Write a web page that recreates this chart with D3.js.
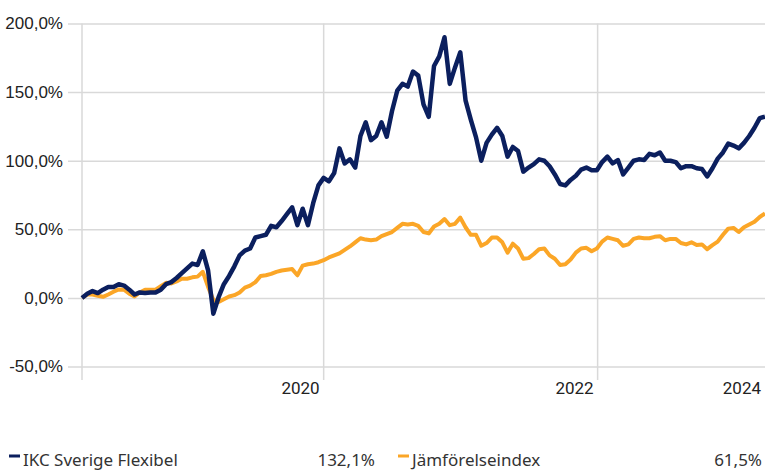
<!DOCTYPE html>
<html>
<head>
<meta charset="utf-8">
<script src="https://cdn.jsdelivr.net/npm/d3@7/dist/d3.min.js"></script>
<style>
  body { margin: 0; background: #fff; }
  svg { display: block; }
</style>
</head>
<body>
<div id="chart"></div>
<script>
// data: two-weekly readings, start date + step
var startDate = "2019-03-29";
var stepDays = 14;

var fundName = "IKC Sverige Flexibel";
var fundTotal = "132,1%";
var fundValues = [
  0, 3, 5, 3.5, 6, 8, 8, 10, 9, 6,
  2.5, 4, 3.5, 4, 4, 6, 10, 11.5, 14.5, 18,
  21.5, 25, 24, 34, 20, -11.5, 0.5, 10, 16, 23,
  31, 34.5, 36, 44, 45, 46, 52.5, 51.5, 56, 61,
  66, 53, 65, 53, 69, 82, 87.5, 85, 91, 109,
  98, 101, 95, 118, 128, 115, 118, 128, 117.5, 136,
  151, 156, 154, 165, 162, 141, 132, 169, 176, 190,
  156, 168, 179, 144, 130, 117, 100, 113, 119, 124,
  118, 103, 110, 107, 92, 95, 97.5, 101, 100, 96,
  90, 83, 82, 86, 89, 93.5, 95, 93, 93, 99,
  103, 98, 100.5, 90, 95, 100, 101, 100.5, 105, 104,
  106, 100, 100, 99, 94.5, 96, 96, 94.5, 94, 88.5,
  94.5, 101.5, 106, 112.5, 111, 109, 113, 118, 124, 131,
  132.1
];

var indexName = "Jämförelseindex";
var indexTotal = "61,5%";
var indexValues = [
  0, 2.5, 2.5, 1.5, 0.8, 2.5, 4.5, 6.2, 6, 3,
  1, 4, 6, 6, 6, 8.5, 11, 10.5, 12, 14,
  14, 15, 15.5, 19, 8, -1.5, -3, -1, 1, 2,
  4, 7.5, 9, 11.5, 16, 16.5, 17.5, 19, 20, 20.5,
  21, 16.5, 23.5, 24.5, 25, 26, 27.5, 29.5, 31, 32.5,
  35, 37.5, 40.5, 43.5, 42.5, 42, 42.5, 45, 46.5, 48,
  51, 54, 53.5, 54, 52.5, 48, 47, 52, 54, 57.5,
  53, 54, 58.5, 51.5, 46, 46, 38, 40, 44, 44,
  40.5, 33, 39.5, 36, 28.5, 29, 32, 35.5, 36, 31,
  28.5, 24, 24.5, 28, 33, 36, 36.5, 34, 36, 41,
  44, 43, 42, 38, 39, 43, 44, 43.5, 43.5, 44.5,
  45, 42, 43, 43, 40, 39, 40.5, 38.5, 39, 35.5,
  38.5, 41, 46, 50.5, 51, 48, 51.5, 53.5, 55.5, 59,
  61.5
];

var yTicks = [-50, 0, 50, 100, 150, 200];
var xYears = [2020, 2022, 2024];

var navy = "#0b1f5e";
var orange = "#fba627";
var gridColor = "#d9d9d9";

var W = 765, H = 471;
var margin = {top: 23.5, left: 82, right: 0, bottom: 104.5};
var width = W - margin.left - margin.right,
    height = H - margin.top - margin.bottom;

var parseDate = d3.timeParse("%Y-%m-%d");
var t0 = parseDate(startDate);
var dates = fundValues.map(function(d, i) { return d3.timeDay.offset(t0, i * stepDays); });

var fund = fundValues.map(function(v, i) { return {date: dates[i], value: v}; });
var bench = indexValues.map(function(v, i) { return {date: dates[i], value: v}; });

var locale = d3.formatLocale({decimal: ",", thousands: "\u00a0", grouping: [3], currency: ["", " kr"], minus: "-"});
var fmt = locale.format(".1f");

var x = d3.scaleTime().domain(d3.extent(dates)).range([0, width]);
var y = d3.scaleLinear().domain([-50, 200]).range([height, 0]);

var svg = d3.select("#chart").append("svg")
    .attr("width", W)
    .attr("height", H)
    .style("font-family", "Roboto, 'Liberation Sans', sans-serif");

var g = svg.append("g")
    .attr("transform", "translate(" + margin.left + "," + margin.top + ")");

// horizontal grid + y labels
var yAxis = d3.axisLeft(y)
    .tickValues(yTicks)
    .tickSize(-(width + 14))
    .tickPadding(5)
    .tickFormat(function(d) { return fmt(d) + "%"; });

g.append("g")
    .attr("transform", "translate(-14,0)")
    .call(yAxis)
    .call(function(s) {
      s.select(".domain").remove();
      s.selectAll(".tick line").attr("stroke", gridColor).attr("stroke-width", 1.5);
      s.selectAll(".tick text").attr("fill", "#222").style("font-size", "17px");
    });

// vertical lines: left axis and year boundaries
var lineBottom = height + 13.5;
g.append("line")
    .attr("x1", 0).attr("x2", 0)
    .attr("y1", 0).attr("y2", lineBottom)
    .attr("stroke", gridColor).attr("stroke-width", 1.5);

xYears.forEach(function(yr) {
  var b = new Date(yr + 1, 0, 1);
  var xp = x(b);
  if (xp < width) {
    g.append("line")
        .attr("x1", xp).attr("x2", xp)
        .attr("y1", 0).attr("y2", lineBottom)
        .attr("stroke", gridColor).attr("stroke-width", 1.5);
  } else {
    xp = width;
  }
  g.append("text")
      .attr("x", xp - 4)
      .attr("y", height + 27.5)
      .attr("text-anchor", "end")
      .attr("fill", "#222")
      .style("font-size", "17px")
      .text(yr);
});

// lines
var line = d3.line()
    .x(function(d) { return x(d.date); })
    .y(function(d) { return y(d.value); })
    .curve(d3.curveLinear);

g.append("path")
    .datum(bench)
    .attr("fill", "none")
    .attr("stroke", orange)
    .attr("stroke-width", 4)
    .attr("stroke-linejoin", "round")
    .attr("d", line);

g.append("path")
    .datum(fund)
    .attr("fill", "none")
    .attr("stroke", navy)
    .attr("stroke-width", 4.5)
    .attr("stroke-linejoin", "round")
    .attr("d", line);

// legend
var legend = [
  {name: fundName, total: fundTotal, color: navy, x0: 9, x1: 375},
  {name: indexName, total: indexTotal, color: orange, x0: 398, x1: 762}
];

var lg = svg.append("g").style("font-family", "'Noto Sans', 'Open Sans', sans-serif");
legend.forEach(function(l) {
  lg.append("rect")
      .attr("x", l.x0).attr("y", 454.5)
      .attr("width", 11).attr("height", 3)
      .attr("fill", l.color);
  lg.append("text")
      .attr("x", l.x0 + 14).attr("y", 466)
      .attr("fill", "#333")
      .style("font-size", "17px")
      .text(l.name);
  lg.append("text")
      .attr("x", l.x1).attr("y", 466)
      .attr("text-anchor", "end")
      .attr("fill", "#333")
      .style("font-size", "17px")
      .text(l.total);
});
</script>
</body>
</html>
